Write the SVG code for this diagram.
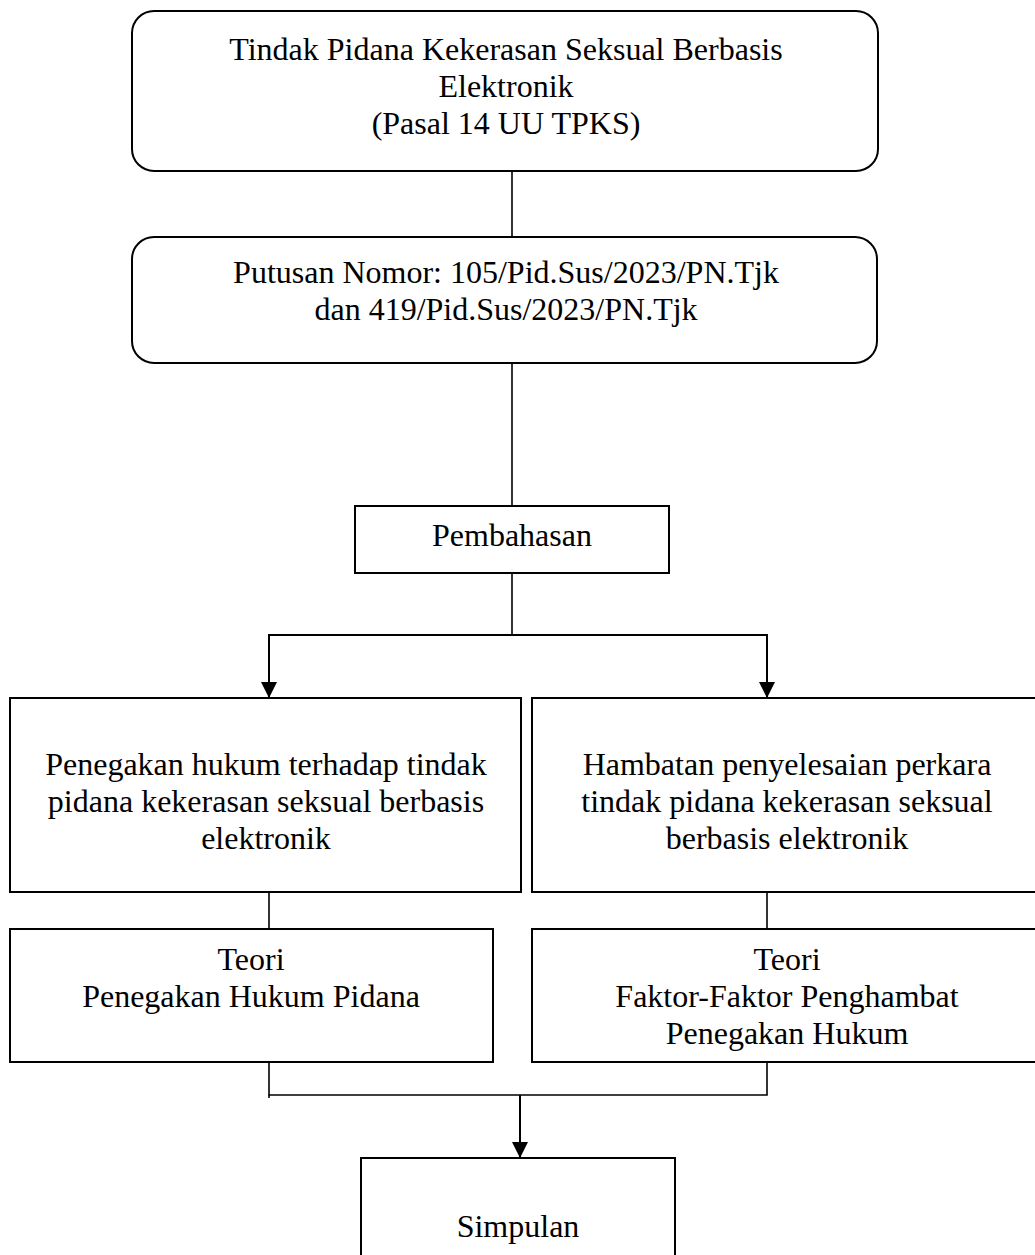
<svg xmlns="http://www.w3.org/2000/svg" width="1035" height="1255" viewBox="0 0 1035 1255">
<style>
.box{fill:#fff;stroke:#000;stroke-width:2}
.t{font-family:"Liberation Serif","Times New Roman",serif;font-size:32px;fill:#000;text-anchor:middle}
.c{fill:none;stroke:#000;stroke-width:1.6}
.a{fill:none;stroke:#000;stroke-width:2}
</style>
<defs>
<marker id="arr" markerUnits="userSpaceOnUse" markerWidth="16" markerHeight="16" viewBox="0 0 16 16" refX="16" refY="8" orient="auto">
<path d="M0,0 L16,8 L0,16 Z" fill="#000"/>
</marker>
</defs>
<rect width="1035" height="1255" fill="#fff"/>
<g id="connectors">
<line class="c" x1="512" y1="171" x2="512" y2="237"/>
<line class="c" x1="512" y1="363" x2="512" y2="506"/>
<line class="c" x1="512" y1="573" x2="512" y2="635"/>
<line class="a" x1="268" y1="635" x2="768" y2="635"/>
<line class="a" x1="269" y1="634" x2="269" y2="698" marker-end="url(#arr)"/>
<line class="a" x1="767" y1="634" x2="767" y2="698" marker-end="url(#arr)"/>
<line class="c" x1="269" y1="892" x2="269" y2="929"/>
<line class="c" x1="767" y1="892" x2="767" y2="929"/>
<polyline class="c" points="269,1062 269,1095 767,1095 767,1062"/>
<line class="c" x1="269" y1="1095" x2="269" y2="1098"/>
<line class="a" x1="520" y1="1095" x2="520" y2="1158" marker-end="url(#arr)"/>
</g>
<g id="node-tindak-pidana">
<rect class="box" x="132" y="11" width="746" height="160" rx="22" ry="22"/>
<text class="t" x="506" y="60">Tindak Pidana Kekerasan Seksual Berbasis</text>
<text class="t" x="506" y="97">Elektronik</text>
<text class="t" x="506" y="134">(Pasal 14 UU TPKS)</text>
</g>
<g id="node-putusan">
<rect class="box" x="132" y="237" width="745" height="126" rx="22" ry="22"/>
<text class="t" x="506" y="283">Putusan Nomor: 105/Pid.Sus/2023/PN.Tjk</text>
<text class="t" x="506" y="320">dan 419/Pid.Sus/2023/PN.Tjk</text>
</g>
<g id="node-pembahasan">
<rect class="box" x="355" y="506" width="314" height="67"/>
<text class="t" x="512" y="546">Pembahasan</text>
</g>
<g id="node-penegakan">
<rect class="box" x="10" y="698" width="511" height="194"/>
<text class="t" x="266" y="775">Penegakan hukum terhadap tindak</text>
<text class="t" x="266" y="812">pidana kekerasan seksual berbasis</text>
<text class="t" x="266" y="849">elektronik</text>
</g>
<g id="node-hambatan">
<rect class="box" x="532" y="698" width="513" height="194"/>
<text class="t" x="787" y="775">Hambatan penyelesaian perkara</text>
<text class="t" x="787" y="812">tindak pidana kekerasan seksual</text>
<text class="t" x="787" y="849">berbasis elektronik</text>
</g>
<g id="node-teori-penegakan">
<rect class="box" x="10" y="929" width="483" height="133"/>
<text class="t" x="251" y="970">Teori</text>
<text class="t" x="251" y="1007">Penegakan Hukum Pidana</text>
</g>
<g id="node-teori-faktor">
<rect class="box" x="532" y="929" width="513" height="133"/>
<text class="t" x="787" y="970">Teori</text>
<text class="t" x="787" y="1007">Faktor-Faktor Penghambat</text>
<text class="t" x="787" y="1044">Penegakan Hukum</text>
</g>
<g id="node-simpulan">
<rect class="box" x="361" y="1158" width="314" height="110"/>
<text class="t" x="518" y="1237">Simpulan</text>
</g>
</svg>
